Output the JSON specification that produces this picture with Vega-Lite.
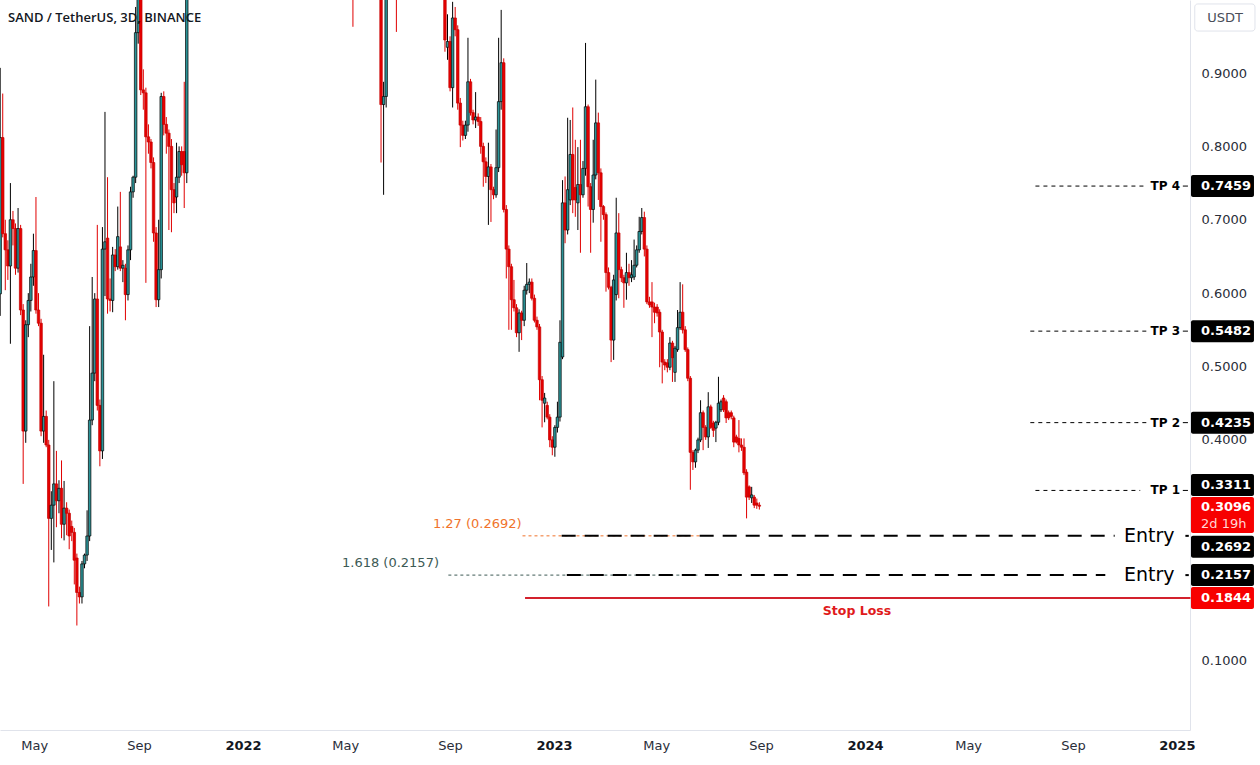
{
"$schema":"https://vega.github.io/schema/vega-lite/v6.json",
"width":1190,"height":730,
"autosize":{"type":"none"},
"padding":{"left":0,"top":0,"right":70,"bottom":35},
"background":"#ffffff",
"config":{"view":{"stroke":null},"font":"DejaVu Sans"},
"title":{"text":"SAND / TetherUS, 3D, BINANCE","anchor":"start","frame":"group","orient":"top","offset":-31,"baseline":"middle","dx":8,"font":"Open Sans","fontSize":13,"fontWeight":600,"color":"#131722"},
"datasets":{
"candles":[
{"d":"2021-03-22","o":0.599,"h":0.907,"l":0.569,"c":0.812},
{"d":"2021-03-25","o":0.812,"h":0.872,"l":0.676,"c":0.681},
{"d":"2021-03-28","o":0.681,"h":0.700,"l":0.604,"c":0.659},
{"d":"2021-03-31","o":0.659,"h":0.672,"l":0.618,"c":0.637},
{"d":"2021-04-03","o":0.637,"h":0.750,"l":0.531,"c":0.700},
{"d":"2021-04-06","o":0.700,"h":0.712,"l":0.665,"c":0.688},
{"d":"2021-04-09","o":0.688,"h":0.695,"l":0.625,"c":0.634},
{"d":"2021-04-12","o":0.634,"h":0.716,"l":0.628,"c":0.688},
{"d":"2021-04-15","o":0.688,"h":0.693,"l":0.570,"c":0.577},
{"d":"2021-04-18","o":0.577,"h":0.585,"l":0.340,"c":0.412},
{"d":"2021-04-21","o":0.412,"h":0.563,"l":0.396,"c":0.557},
{"d":"2021-04-24","o":0.557,"h":0.600,"l":0.540,"c":0.590},
{"d":"2021-04-27","o":0.590,"h":0.640,"l":0.575,"c":0.622},
{"d":"2021-04-30","o":0.622,"h":0.681,"l":0.610,"c":0.658},
{"d":"2021-05-03","o":0.658,"h":0.731,"l":0.572,"c":0.577},
{"d":"2021-05-06","o":0.577,"h":0.600,"l":0.555,"c":0.559},
{"d":"2021-05-09","o":0.559,"h":0.565,"l":0.405,"c":0.412},
{"d":"2021-05-12","o":0.412,"h":0.516,"l":0.396,"c":0.432},
{"d":"2021-05-15","o":0.432,"h":0.440,"l":0.390,"c":0.393},
{"d":"2021-05-18","o":0.393,"h":0.400,"l":0.173,"c":0.293},
{"d":"2021-05-21","o":0.293,"h":0.330,"l":0.250,"c":0.311},
{"d":"2021-05-24","o":0.311,"h":0.480,"l":0.233,"c":0.340},
{"d":"2021-05-27","o":0.340,"h":0.385,"l":0.281,"c":0.317},
{"d":"2021-05-30","o":0.317,"h":0.345,"l":0.300,"c":0.334},
{"d":"2021-06-02","o":0.334,"h":0.372,"l":0.266,"c":0.285},
{"d":"2021-06-05","o":0.285,"h":0.344,"l":0.263,"c":0.307},
{"d":"2021-06-08","o":0.307,"h":0.315,"l":0.270,"c":0.300},
{"d":"2021-06-11","o":0.300,"h":0.305,"l":0.251,"c":0.269},
{"d":"2021-06-14","o":0.282,"h":0.290,"l":0.262,"c":0.274},
{"d":"2021-06-17","o":0.274,"h":0.280,"l":0.203,"c":0.236},
{"d":"2021-06-20","o":0.239,"h":0.245,"l":0.147,"c":0.192},
{"d":"2021-06-23","o":0.192,"h":0.200,"l":0.177,"c":0.186},
{"d":"2021-06-26","o":0.186,"h":0.235,"l":0.177,"c":0.231},
{"d":"2021-06-29","o":0.231,"h":0.245,"l":0.225,"c":0.243},
{"d":"2021-07-02","o":0.243,"h":0.304,"l":0.235,"c":0.269},
{"d":"2021-07-05","o":0.269,"h":0.555,"l":0.262,"c":0.427},
{"d":"2021-07-08","o":0.427,"h":0.622,"l":0.420,"c":0.491},
{"d":"2021-07-11","o":0.491,"h":0.600,"l":0.480,"c":0.592},
{"d":"2021-07-14","o":0.592,"h":0.693,"l":0.440,"c":0.447},
{"d":"2021-07-17","o":0.447,"h":0.455,"l":0.364,"c":0.385},
{"d":"2021-07-20","o":0.385,"h":0.690,"l":0.374,"c":0.660},
{"d":"2021-07-23","o":0.660,"h":0.847,"l":0.596,"c":0.670},
{"d":"2021-07-26","o":0.675,"h":0.758,"l":0.572,"c":0.592},
{"d":"2021-07-29","o":0.592,"h":0.620,"l":0.575,"c":0.590},
{"d":"2021-08-01","o":0.590,"h":0.663,"l":0.574,"c":0.652},
{"d":"2021-08-04","o":0.652,"h":0.660,"l":0.630,"c":0.636},
{"d":"2021-08-07","o":0.636,"h":0.718,"l":0.632,"c":0.677},
{"d":"2021-08-10","o":0.663,"h":0.738,"l":0.630,"c":0.634},
{"d":"2021-08-13","o":0.634,"h":0.645,"l":0.615,"c":0.638},
{"d":"2021-08-16","o":0.634,"h":0.640,"l":0.563,"c":0.598},
{"d":"2021-08-19","o":0.598,"h":0.665,"l":0.590,"c":0.659},
{"d":"2021-08-22","o":0.659,"h":0.745,"l":0.645,"c":0.738},
{"d":"2021-08-25","o":0.738,"h":0.760,"l":0.730,"c":0.758},
{"d":"2021-08-28","o":0.758,"h":0.990,"l":0.750,"c":0.955},
{"d":"2021-08-31","o":0.955,"h":1.150,"l":0.940,"c":1.080},
{"d":"2021-09-03","o":1.080,"h":1.120,"l":0.870,"c":0.877},
{"d":"2021-09-06","o":0.877,"h":0.905,"l":0.850,"c":0.873},
{"d":"2021-09-09","o":0.873,"h":0.880,"l":0.614,"c":0.813},
{"d":"2021-09-12","o":0.813,"h":0.830,"l":0.790,"c":0.806},
{"d":"2021-09-15","o":0.806,"h":0.810,"l":0.770,"c":0.778},
{"d":"2021-09-18","o":0.778,"h":0.785,"l":0.670,"c":0.682},
{"d":"2021-09-21","o":0.682,"h":0.690,"l":0.581,"c":0.591},
{"d":"2021-09-24","o":0.591,"h":0.700,"l":0.581,"c":0.632},
{"d":"2021-09-27","o":0.632,"h":0.873,"l":0.620,"c":0.868},
{"d":"2021-09-30","o":0.868,"h":0.875,"l":0.815,"c":0.830},
{"d":"2021-10-03","o":0.830,"h":0.840,"l":0.790,"c":0.818},
{"d":"2021-10-06","o":0.818,"h":0.823,"l":0.686,"c":0.800},
{"d":"2021-10-09","o":0.800,"h":0.810,"l":0.683,"c":0.741},
{"d":"2021-10-12","o":0.741,"h":0.750,"l":0.709,"c":0.723},
{"d":"2021-10-15","o":0.731,"h":0.805,"l":0.709,"c":0.758},
{"d":"2021-10-18","o":0.758,"h":0.800,"l":0.750,"c":0.793},
{"d":"2021-10-21","o":0.793,"h":0.800,"l":0.760,"c":0.775},
{"d":"2021-10-24","o":0.793,"h":0.888,"l":0.716,"c":0.764},
{"d":"2021-10-27","o":0.764,"h":1.200,"l":0.750,"c":1.150},
{"d":"2022-05-10","o":1.200,"h":1.250,"l":0.963,"c":1.080},
{"d":"2022-06-12","o":1.040,"h":1.080,"l":0.778,"c":0.857},
{"d":"2022-06-15","o":0.857,"h":0.888,"l":0.734,"c":0.868},
{"d":"2022-06-18","o":0.868,"h":1.100,"l":0.853,"c":1.050},
{"d":"2022-06-30","o":1.050,"h":1.100,"l":0.956,"c":1.020},
{"d":"2022-08-26","o":1.030,"h":1.060,"l":0.929,"c":0.945},
{"d":"2022-08-29","o":0.935,"h":0.980,"l":0.918,"c":0.943},
{"d":"2022-09-01","o":0.943,"h":0.950,"l":0.875,"c":0.880},
{"d":"2022-09-04","o":0.880,"h":0.997,"l":0.853,"c":0.975},
{"d":"2022-09-07","o":0.975,"h":0.990,"l":0.950,"c":0.959},
{"d":"2022-09-10","o":0.959,"h":0.965,"l":0.850,"c":0.859},
{"d":"2022-09-13","o":0.859,"h":0.866,"l":0.799,"c":0.829},
{"d":"2022-09-16","o":0.829,"h":0.835,"l":0.808,"c":0.815},
{"d":"2022-09-19","o":0.815,"h":0.835,"l":0.810,"c":0.829},
{"d":"2022-09-22","o":0.829,"h":0.948,"l":0.820,"c":0.888},
{"d":"2022-09-25","o":0.888,"h":0.892,"l":0.842,"c":0.846},
{"d":"2022-09-28","o":0.846,"h":0.850,"l":0.830,"c":0.836},
{"d":"2022-10-01","o":0.836,"h":0.874,"l":0.825,"c":0.840},
{"d":"2022-10-04","o":0.840,"h":0.845,"l":0.828,"c":0.834},
{"d":"2022-10-07","o":0.834,"h":0.840,"l":0.790,"c":0.800},
{"d":"2022-10-10","o":0.800,"h":0.805,"l":0.745,"c":0.779},
{"d":"2022-10-13","o":0.779,"h":0.785,"l":0.750,"c":0.759},
{"d":"2022-10-16","o":0.759,"h":0.805,"l":0.693,"c":0.772},
{"d":"2022-10-19","o":0.772,"h":0.776,"l":0.697,"c":0.741},
{"d":"2022-10-22","o":0.741,"h":0.745,"l":0.728,"c":0.734},
{"d":"2022-10-25","o":0.734,"h":0.823,"l":0.730,"c":0.771},
{"d":"2022-10-28","o":0.771,"h":0.948,"l":0.765,"c":0.861},
{"d":"2022-10-31","o":0.861,"h":0.986,"l":0.850,"c":0.914},
{"d":"2022-11-03","o":0.914,"h":0.920,"l":0.710,"c":0.714},
{"d":"2022-11-06","o":0.714,"h":0.720,"l":0.620,"c":0.660},
{"d":"2022-11-09","o":0.660,"h":0.665,"l":0.550,"c":0.636},
{"d":"2022-11-12","o":0.636,"h":0.640,"l":0.550,"c":0.591},
{"d":"2022-11-15","o":0.591,"h":0.618,"l":0.575,"c":0.580},
{"d":"2022-11-18","o":0.580,"h":0.585,"l":0.540,"c":0.546},
{"d":"2022-11-21","o":0.546,"h":0.578,"l":0.520,"c":0.573},
{"d":"2022-11-24","o":0.573,"h":0.576,"l":0.536,"c":0.563},
{"d":"2022-11-27","o":0.563,"h":0.610,"l":0.555,"c":0.604},
{"d":"2022-11-30","o":0.604,"h":0.641,"l":0.598,"c":0.612},
{"d":"2022-12-03","o":0.612,"h":0.620,"l":0.600,"c":0.615},
{"d":"2022-12-06","o":0.615,"h":0.620,"l":0.590,"c":0.593},
{"d":"2022-12-09","o":0.593,"h":0.598,"l":0.560,"c":0.563},
{"d":"2022-12-12","o":0.563,"h":0.568,"l":0.550,"c":0.554},
{"d":"2022-12-15","o":0.554,"h":0.558,"l":0.454,"c":0.482},
{"d":"2022-12-18","o":0.482,"h":0.487,"l":0.417,"c":0.454},
{"d":"2022-12-21","o":0.450,"h":0.464,"l":0.424,"c":0.457},
{"d":"2022-12-24","o":0.447,"h":0.452,"l":0.428,"c":0.431},
{"d":"2022-12-27","o":0.431,"h":0.435,"l":0.390,"c":0.400},
{"d":"2022-12-30","o":0.400,"h":0.405,"l":0.379,"c":0.390},
{"d":"2023-01-02","o":0.390,"h":0.420,"l":0.377,"c":0.417},
{"d":"2023-01-05","o":0.417,"h":0.452,"l":0.410,"c":0.431},
{"d":"2023-01-08","o":0.431,"h":0.563,"l":0.425,"c":0.533},
{"d":"2023-01-11","o":0.513,"h":0.754,"l":0.510,"c":0.723},
{"d":"2023-01-14","o":0.723,"h":0.759,"l":0.668,"c":0.686},
{"d":"2023-01-17","o":0.686,"h":0.839,"l":0.680,"c":0.741},
{"d":"2023-01-20","o":0.727,"h":0.836,"l":0.720,"c":0.789},
{"d":"2023-01-23","o":0.789,"h":0.853,"l":0.709,"c":0.727},
{"d":"2023-01-26","o":0.744,"h":0.809,"l":0.704,"c":0.727},
{"d":"2023-01-29","o":0.723,"h":0.799,"l":0.686,"c":0.748},
{"d":"2023-02-01","o":0.748,"h":0.809,"l":0.655,"c":0.734},
{"d":"2023-02-04","o":0.734,"h":0.780,"l":0.730,"c":0.770},
{"d":"2023-02-07","o":0.770,"h":0.941,"l":0.760,"c":0.854},
{"d":"2023-02-10","o":0.854,"h":0.857,"l":0.718,"c":0.745},
{"d":"2023-02-13","o":0.745,"h":0.750,"l":0.655,"c":0.714},
{"d":"2023-02-16","o":0.714,"h":0.809,"l":0.696,"c":0.761},
{"d":"2023-02-19","o":0.761,"h":0.891,"l":0.755,"c":0.832},
{"d":"2023-02-22","o":0.832,"h":0.846,"l":0.727,"c":0.764},
{"d":"2023-02-25","o":0.764,"h":0.770,"l":0.670,"c":0.718},
{"d":"2023-02-28","o":0.718,"h":0.720,"l":0.700,"c":0.707},
{"d":"2023-03-03","o":0.707,"h":0.710,"l":0.602,"c":0.628},
{"d":"2023-03-06","o":0.628,"h":0.635,"l":0.605,"c":0.608},
{"d":"2023-03-09","o":0.608,"h":0.610,"l":0.506,"c":0.536},
{"d":"2023-03-12","o":0.536,"h":0.625,"l":0.509,"c":0.618},
{"d":"2023-03-15","o":0.598,"h":0.730,"l":0.590,"c":0.682},
{"d":"2023-03-18","o":0.682,"h":0.709,"l":0.593,"c":0.632},
{"d":"2023-03-21","o":0.632,"h":0.636,"l":0.615,"c":0.621},
{"d":"2023-03-24","o":0.621,"h":0.625,"l":0.580,"c":0.614},
{"d":"2023-03-27","o":0.614,"h":0.655,"l":0.591,"c":0.628},
{"d":"2023-03-30","o":0.628,"h":0.640,"l":0.610,"c":0.621},
{"d":"2023-04-02","o":0.621,"h":0.645,"l":0.615,"c":0.625},
{"d":"2023-04-05","o":0.622,"h":0.673,"l":0.618,"c":0.638},
{"d":"2023-04-08","o":0.638,"h":0.665,"l":0.635,"c":0.659},
{"d":"2023-04-11","o":0.659,"h":0.704,"l":0.655,"c":0.684},
{"d":"2023-04-14","o":0.684,"h":0.716,"l":0.680,"c":0.703},
{"d":"2023-04-17","o":0.703,"h":0.711,"l":0.650,"c":0.660},
{"d":"2023-04-20","o":0.660,"h":0.665,"l":0.585,"c":0.588},
{"d":"2023-04-23","o":0.588,"h":0.595,"l":0.580,"c":0.584},
{"d":"2023-04-26","o":0.588,"h":0.615,"l":0.540,"c":0.581},
{"d":"2023-04-29","o":0.581,"h":0.587,"l":0.559,"c":0.574},
{"d":"2023-05-02","o":0.581,"h":0.585,"l":0.568,"c":0.573},
{"d":"2023-05-05","o":0.574,"h":0.578,"l":0.499,"c":0.547},
{"d":"2023-05-08","o":0.547,"h":0.550,"l":0.477,"c":0.506},
{"d":"2023-05-11","o":0.506,"h":0.510,"l":0.495,"c":0.502},
{"d":"2023-05-14","o":0.505,"h":0.510,"l":0.492,"c":0.499},
{"d":"2023-05-17","o":0.499,"h":0.540,"l":0.495,"c":0.532},
{"d":"2023-05-20","o":0.532,"h":0.535,"l":0.479,"c":0.512},
{"d":"2023-05-23","o":0.492,"h":0.528,"l":0.479,"c":0.525},
{"d":"2023-05-26","o":0.523,"h":0.577,"l":0.520,"c":0.553},
{"d":"2023-05-29","o":0.553,"h":0.615,"l":0.550,"c":0.574},
{"d":"2023-06-01","o":0.574,"h":0.612,"l":0.545,"c":0.550},
{"d":"2023-06-04","o":0.550,"h":0.555,"l":0.520,"c":0.523},
{"d":"2023-06-07","o":0.523,"h":0.526,"l":0.480,"c":0.484},
{"d":"2023-06-10","o":0.484,"h":0.487,"l":0.332,"c":0.383},
{"d":"2023-06-13","o":0.383,"h":0.386,"l":0.359,"c":0.370},
{"d":"2023-06-16","o":0.370,"h":0.388,"l":0.362,"c":0.386},
{"d":"2023-06-19","o":0.386,"h":0.403,"l":0.382,"c":0.400},
{"d":"2023-06-22","o":0.400,"h":0.454,"l":0.397,"c":0.437},
{"d":"2023-06-25","o":0.437,"h":0.440,"l":0.386,"c":0.417},
{"d":"2023-06-28","o":0.417,"h":0.420,"l":0.400,"c":0.404},
{"d":"2023-07-01","o":0.404,"h":0.465,"l":0.389,"c":0.445},
{"d":"2023-07-04","o":0.445,"h":0.448,"l":0.415,"c":0.417},
{"d":"2023-07-07","o":0.423,"h":0.426,"l":0.404,"c":0.413},
{"d":"2023-07-10","o":0.416,"h":0.426,"l":0.397,"c":0.424},
{"d":"2023-07-13","o":0.424,"h":0.486,"l":0.420,"c":0.450},
{"d":"2023-07-16","o":0.441,"h":0.455,"l":0.438,"c":0.452},
{"d":"2023-07-19","o":0.457,"h":0.461,"l":0.438,"c":0.441},
{"d":"2023-07-22","o":0.452,"h":0.455,"l":0.423,"c":0.430},
{"d":"2023-07-25","o":0.437,"h":0.440,"l":0.427,"c":0.430},
{"d":"2023-07-28","o":0.437,"h":0.440,"l":0.428,"c":0.432},
{"d":"2023-07-31","o":0.430,"h":0.433,"l":0.390,"c":0.397},
{"d":"2023-08-03","o":0.404,"h":0.407,"l":0.395,"c":0.397},
{"d":"2023-08-06","o":0.402,"h":0.427,"l":0.383,"c":0.393},
{"d":"2023-08-09","o":0.393,"h":0.402,"l":0.385,"c":0.390},
{"d":"2023-08-12","o":0.390,"h":0.402,"l":0.352,"c":0.355},
{"d":"2023-08-15","o":0.356,"h":0.360,"l":0.293,"c":0.322},
{"d":"2023-08-18","o":0.336,"h":0.338,"l":0.318,"c":0.322},
{"d":"2023-08-21","o":0.321,"h":0.336,"l":0.314,"c":0.325},
{"d":"2023-08-24","o":0.322,"h":0.325,"l":0.307,"c":0.311},
{"d":"2023-08-27","o":0.314,"h":0.320,"l":0.306,"c":0.311},
{"d":"2023-08-30","o":0.311,"h":0.315,"l":0.305,"c":0.3096}
],
"fibs":[
{"label":"1.27 (0.2692)","set":"1.27","price":0.2692,"from":"2022-11-25","to":"2023-06-21","at":"2022-11-24"},
{"label":"1.618 (0.2157)","set":"1.618","price":0.2157,"from":"2022-08-30","to":"2023-06-21","at":"2022-08-19"}
],
"entries":[
{"name":"Entry","price":0.2692,"from":"2023-01-10","to":"2024-10-20"},
{"name":"Entry","price":0.2157,"from":"2023-01-16","to":"2024-10-09"}
],
"targets":[
{"name":"TP 4","price":0.7459,"from":"2024-07-19","to":"2024-11-25"},
{"name":"TP 3","price":0.5482,"from":"2024-07-13","to":"2024-11-28"},
{"name":"TP 2","price":0.4235,"from":"2024-07-13","to":"2024-11-28"},
{"name":"TP 1","price":0.3311,"from":"2024-07-19","to":"2024-11-19"}
],
"stops":[{"name":"Stop Loss","price":0.1844,"from":"2022-11-28"}],
"prices":[
{"text":"0.7459","price":0.7459,"tone":"black"},
{"text":"0.5482","price":0.5482,"tone":"black"},
{"text":"0.4235","price":0.4235,"tone":"black"},
{"text":"0.3311","price":0.3311,"tone":"black"},
{"text":"0.3096","price":0.3096,"tone":"red","timer":"2d 19h"},
{"text":"0.2692","price":0.2692,"tone":"black"},
{"text":"0.2157","price":0.2157,"tone":"black"},
{"text":"0.1844","price":0.1844,"tone":"red"}
],
"unit":[{"unit":"USDT"}]
},
"layer":[
{"data":{"name":"candles"},"mark":{"type":"rule","strokeWidth":1,"clip":true},
 "encoding":{
  "x":{"field":"d","type":"temporal","title":null,
   "scale":{"type":"utc","nice":false,"padding":0,"domain":[{"year":2021,"month":3,"date":21,"hours":19,"utc":true},{"year":2025,"month":1,"date":16,"hours":10,"utc":true}]},
   "axis":{"orient":"bottom","title":null,"ticks":false,"grid":false,"domainColor":"#e0e3eb","labelFont":"DejaVu Sans","labelFontSize":13,"labelPadding":9,"labelOverlap":false,"labelBound":false,"labelFlush":false,
    "values":[{"year":2021,"month":5,"date":1,"utc":true},{"year":2021,"month":9,"date":1,"utc":true},{"year":2022,"month":1,"date":1,"utc":true},{"year":2022,"month":5,"date":1,"utc":true},{"year":2022,"month":9,"date":1,"utc":true},{"year":2023,"month":1,"date":1,"utc":true},{"year":2023,"month":5,"date":1,"utc":true},{"year":2023,"month":9,"date":1,"utc":true},{"year":2024,"month":1,"date":1,"utc":true},{"year":2024,"month":5,"date":1,"utc":true},{"year":2024,"month":9,"date":1,"utc":true},{"year":2025,"month":1,"date":1,"utc":true}],
    "labelExpr":"utcmonth(datum.value) == 0 ? utcFormat(datum.value, '%Y') : utcFormat(datum.value, '%b')",
    "labelFontWeight":{"condition":{"test":"utcmonth(datum.value) == 0","value":"bold"},"value":"normal"},
    "labelColor":{"condition":{"test":"utcmonth(datum.value) == 0","value":"#131722"},"value":"#2a2e39"}}},
  "y":{"field":"l","type":"quantitative","title":null,
   "scale":{"domain":[0.0046,0.9995],"zero":false,"nice":false,"padding":0},
   "axis":{"orient":"right","title":null,"values":[0.1,0.4,0.5,0.6,0.7,0.8,0.9],"format":".4f","ticks":false,"grid":false,"domainColor":"#e0e3eb","labelFont":"DejaVu Sans","labelFontSize":13,"labelColor":"#2a2e39","labelPadding":11}},
  "y2":{"field":"h"},
  "color":{"condition":{"test":"datum.c >= datum.o","value":"#000000"},"value":"#e00000"}}},
{"data":{"name":"candles"},"mark":{"type":"bar","width":2.5,"strokeWidth":0.7,"clip":true},
 "encoding":{
  "x":{"field":"d","type":"temporal","title":null},
  "y":{"field":"o","type":"quantitative","title":null},
  "y2":{"field":"c"},
  "fill":{"condition":{"test":"datum.c >= datum.o","value":"#2a9397"},"value":"#e60000"},
  "stroke":{"condition":{"test":"datum.c >= datum.o","value":"#000000"},"value":"#c40000"}}},
{"data":{"name":"fibs"},"mark":{"type":"rule","strokeWidth":1,"strokeDash":[3,3]},
 "encoding":{
  "x":{"field":"from","type":"temporal","title":null},"x2":{"field":"to"},
  "y":{"field":"price","type":"quantitative","title":null},
  "color":{"condition":{"test":"datum.set == '1.27'","value":"#f0732b"},"value":"#3d5a55"}}},
{"data":{"name":"fibs"},"mark":{"type":"text","align":"right","baseline":"middle","dy":-12,"fontSize":13,"font":"DejaVu Sans"},
 "encoding":{
  "x":{"field":"at","type":"temporal","title":null},
  "y":{"field":"price","type":"quantitative","title":null},
  "text":{"field":"label"},
  "color":{"condition":{"test":"datum.set == '1.27'","value":"#f0732b"},"value":"#3d5a55"}}},
{"data":{"name":"entries"},"mark":{"type":"rule","strokeWidth":2,"strokeDash":[14,9],"color":"#000000"},
 "encoding":{
  "x":{"field":"from","type":"temporal","title":null},"x2":{"field":"to"},
  "y":{"field":"price","type":"quantitative","title":null}}},
{"data":{"name":"entries"},"mark":{"type":"rule","strokeWidth":2,"color":"#000000"},
 "encoding":{
  "x":{"datum":{"year":2025,"month":1,"date":11,"utc":true},"type":"temporal"},
  "x2":{"datum":{"year":2025,"month":1,"date":15,"utc":true}},
  "y":{"field":"price","type":"quantitative","title":null}}},
{"data":{"name":"entries"},"mark":{"type":"text","align":"left","baseline":"middle","fontSize":19,"font":"DejaVu Sans","color":"#000000"},
 "encoding":{
  "x":{"datum":{"year":2024,"month":10,"date":31,"utc":true},"type":"temporal"},
  "y":{"field":"price","type":"quantitative","title":null},
  "text":{"field":"name"}}},
{"data":{"name":"targets"},"mark":{"type":"rule","strokeWidth":1,"strokeDash":[4,4],"color":"#000000"},
 "encoding":{
  "x":{"field":"from","type":"temporal","title":null},"x2":{"field":"to"},
  "y":{"field":"price","type":"quantitative","title":null}}},
{"data":{"name":"targets"},"mark":{"type":"rule","strokeWidth":1,"color":"#000000"},
 "encoding":{
  "x":{"datum":{"year":2025,"month":1,"date":8,"utc":true},"type":"temporal"},
  "x2":{"datum":{"year":2025,"month":1,"date":14,"utc":true}},
  "y":{"field":"price","type":"quantitative","title":null}}},
{"data":{"name":"targets"},"mark":{"type":"text","align":"right","baseline":"middle","fontSize":12,"fontWeight":"bold","font":"DejaVu Sans","color":"#000000"},
 "encoding":{
  "x":{"datum":{"year":2025,"month":1,"date":4,"hours":17,"utc":true},"type":"temporal"},
  "y":{"field":"price","type":"quantitative","title":null},
  "text":{"field":"name"}}},
{"data":{"name":"stops"},"mark":{"type":"rule","strokeWidth":2,"color":"#d3212d"},
 "encoding":{
  "x":{"field":"from","type":"temporal","title":null},
  "x2":{"datum":{"year":2025,"month":1,"date":17,"utc":true}},
  "y":{"field":"price","type":"quantitative","title":null}}},
{"data":{"name":"stops"},"mark":{"type":"text","align":"center","baseline":"middle","dy":13,"fontSize":12.5,"fontWeight":"bold","font":"DejaVu Sans","color":"#e01b1b"},
 "encoding":{
  "x":{"datum":{"year":2023,"month":12,"date":22,"hours":14,"utc":true},"type":"temporal"},
  "y":{"field":"price","type":"quantitative","title":null},
  "text":{"field":"name"}}},
{"data":{"name":"prices"},
 "transform":[
  {"calculate":"datum.price + (datum.price == 0.3311 ? 0.0075 : datum.price == 0.3096 ? -0.0119 : datum.price == 0.2692 ? -0.015 : 0)","as":"mid"},
  {"calculate":"datum.mid - (datum.timer ? 0.0245 : 0.015)","as":"lo"},
  {"calculate":"datum.mid + (datum.timer ? 0.0245 : 0.015)","as":"hi"},
  {"calculate":"datum.timer ? datum.mid + 0.0109 : datum.mid","as":"ty"},
  {"calculate":"datum.mid - 0.0123","as":"ty2"}],
 "layer":[
  {"mark":{"type":"rect","cornerRadius":2},
   "encoding":{
    "x":{"datum":{"year":2025,"month":1,"date":17,"hours":14,"utc":true},"type":"temporal"},
    "x2":{"datum":{"year":2025,"month":4,"date":1,"hours":12,"utc":true}},
    "y":{"field":"lo","type":"quantitative","title":null},"y2":{"field":"hi"},
    "color":{"condition":{"test":"datum.tone == 'red'","value":"#f70000"},"value":"#000000"}}},
  {"mark":{"type":"text","align":"left","baseline":"middle","fontSize":13,"fontWeight":"bold","font":"DejaVu Sans","color":"#ffffff"},
   "encoding":{
    "x":{"datum":{"year":2025,"month":1,"date":29,"hours":7,"utc":true},"type":"temporal"},
    "y":{"field":"ty","type":"quantitative","title":null},
    "text":{"field":"text"}}},
  {"transform":[{"filter":"datum.timer"}],
   "mark":{"type":"text","align":"left","baseline":"middle","fontSize":13,"font":"DejaVu Sans","color":"#ffd6d6"},
   "encoding":{
    "x":{"datum":{"year":2025,"month":1,"date":29,"hours":7,"utc":true},"type":"temporal"},
    "y":{"field":"ty2","type":"quantitative","title":null},
    "text":{"field":"timer"}}}
 ]},
{"data":{"name":"unit"},"mark":{"type":"rect","fill":"#ffffff","stroke":"#e0e3eb","strokeWidth":1,"cornerRadius":3},
 "encoding":{
  "x":{"datum":{"year":2025,"month":1,"date":22,"utc":true},"type":"temporal"},
  "x2":{"datum":{"year":2025,"month":4,"date":2,"hours":16,"utc":true}},
  "y":{"datum":0.9572,"type":"quantitative"},
  "y2":{"datum":0.9941}}},
{"data":{"name":"unit"},"mark":{"type":"text","align":"center","baseline":"middle","fontSize":13,"font":"DejaVu Sans","color":"#4a4e59"},
 "encoding":{
  "x":{"datum":{"year":2025,"month":2,"date":26,"hours":12,"utc":true},"type":"temporal"},
  "y":{"datum":0.9755,"type":"quantitative"},
  "text":{"field":"unit"}}}
]
}
